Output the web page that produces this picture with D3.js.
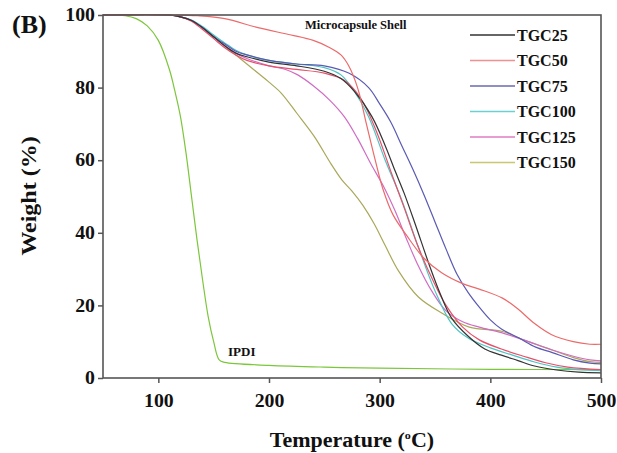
<!DOCTYPE html>
<html>
<head>
<meta charset="utf-8">
<script src="https://cdn.jsdelivr.net/npm/d3@7"></script>
<style>
  body { margin: 0; background: #fff; }
  text { font-family: "Liberation Serif", "DejaVu Serif", serif; font-weight: bold; fill: #111; }
</style>
</head>
<body>
<svg width="617" height="453"></svg>
<script>
// temperatures (°C) and weight (%)
const tgc25 = [[50,100],[110,100],[120,99.5],[130,98.5],[140,96.5],[150,94],[160,91.5],[170,89.5],[180,88.5],[200,87],[225,86],[250,84.5],[265,82.5],[277,79],[293,72],[305,64],[314,57],[322,51],[332,42.5],[345,31],[355,23],[365,16.5],[380,11.5],[395,8],[410,6.3],[425,4.8],[440,3.3],[460,2.2],[480,1.6],[500,1.4]];
const tgc50 = [[50,100],[110,100],[120,99.5],[130,98.3],[140,96],[150,93.5],[160,91],[170,89],[180,87.5],[200,86],[225,85],[250,84],[268,82],[283,77],[297,68],[310,57],[322,47],[335,36],[348,27],[360,20],[375,14],[390,10.5],[410,8],[430,6],[450,4.2],[470,3],[500,2.3]];
const tgc75 = [[50,100],[110,100],[120,99.5],[130,98.5],[140,96.5],[150,94],[160,92],[170,90],[180,89],[200,87.5],[225,86.5],[250,86],[272,84],[290,80],[300,75.5],[310,70.5],[320,64],[330,57.5],[340,50.5],[350,43],[360,35.5],[370,28.5],[380,23.5],[390,19.5],[400,16],[410,13.5],[426,11],[441,8.5],[456,7],[475,5],[490,4.1],[500,3.9]];
const tgc100 = [[50,100],[110,100],[120,99.5],[130,98.6],[140,96.8],[150,94.5],[160,92.3],[170,90.3],[180,89],[200,87.5],[225,86.5],[250,85.5],[265,83.5],[277,79],[290,72],[305,60],[320,49],[335,36],[350,24],[365,15],[380,11],[400,8.3],[420,6.3],[440,4.4],[460,3],[480,2.3],[500,2]];
const tgc125 = [[50,100],[110,100],[120,99.5],[130,98.5],[140,96.5],[150,94],[160,91.5],[170,89.5],[180,88],[200,86],[215,85],[226,83.5],[240,80.5],[255,76.5],[268,72],[280,66],[292,59],[304,52.5],[314,46],[324,38.5],[334,31.5],[347,24],[360,18.5],[375,15.5],[390,14],[410,12.5],[430,10.5],[456,7.7],[475,6],[490,5],[500,4.7]];
const tgc150 = [[50,100],[110,100],[120,99.5],[130,98.5],[140,96.5],[150,94],[160,91.5],[170,89],[180,86.5],[190,84],[200,81.5],[211,78.5],[225,73],[241,66.5],[256,59],[266,54.5],[275,51.5],[285,47.5],[295,42.5],[305,36.5],[317,29.5],[335,22.3],[356,17.9],[381,14],[411,12.8],[430,10.5],[456,7.7],[475,5.6],[490,4.5],[500,4.3]];
const shell = [[50,100],[115,100],[135,99.8],[160,99],[190,96.5],[220,94.5],[240,93],[255,91],[265,89],[272,86],[280,80],[288,70],[296,60],[303,52],[312,45],[325,39],[340,33],[356,29],[375,26],[390,24.5],[411,22],[425,19],[440,15],[455,12],[475,10],[490,9.3],[500,9.3]];
const ipdi = [[50,100],[70,99.8],[80,99],[90,97],[100,93],[110,85],[115,79],[120,72],[125,62],[130,50],[135,38],[140,27],[145,17],[150,10],[155,5],[160,4.3],[200,3.5],[250,3],[300,2.7],[400,2.4],[500,2.3]];

const legendNames = ["TGC25","TGC50","TGC75","TGC100","TGC125","TGC150"];
const xTicks = [100,200,300,400,500];
const yTicks = [0,20,40,60,80,100];

const series = [
  {name:"IPDI", data: ipdi, color:"#7cc63c"},
  {name:"TGC150", data: tgc150, color:"#a9a85a"},
  {name:"TGC125", data: tgc125, color:"#d06cc4"},
  {name:"TGC100", data: tgc100, color:"#4cc4c4"},
  {name:"TGC75", data: tgc75, color:"#5a5ab4"},
  {name:"TGC50", data: tgc50, color:"#e8506a"},
  {name:"TGC25", data: tgc25, color:"#333333"},
  {name:"Shell", data: shell, color:"#ec6a6a"}
];
const legendColors = {TGC25:"#333333",TGC50:"#f09090",TGC75:"#6a6ab0",TGC100:"#6cd0d0",TGC125:"#e07cc0",TGC150:"#c8c870"};

const svg = d3.select("svg");
const x = d3.scaleLinear().domain([50,500]).range([103,601]);
const y = d3.scaleLinear().domain([0,100]).range([378,15]);

const line = d3.line().x(d => x(d[0])).y(d => y(d[1])).curve(d3.curveCatmullRom.alpha(0.5));

svg.selectAll(".curve")
  .data(series)
  .enter()
  .append("path")
  .attr("d", d => line(d.data))
  .attr("fill","none")
  .attr("stroke", d => d.color)
  .attr("stroke-width", 1.2);

// frame
svg.append("rect")
  .attr("x",103).attr("y",15).attr("width",498).attr("height",363)
  .attr("fill","none").attr("stroke","#555").attr("stroke-width",1.6);

const xaxis = svg.append("g")
  .attr("transform","translate(0,378)")
  .call(d3.axisBottom(x).tickValues(xTicks).tickSize(5).tickPadding(11).tickFormat(d3.format("d")));
const yaxis = svg.append("g")
  .attr("transform","translate(103,0)")
  .call(d3.axisLeft(y).tickValues(yTicks).tickSize(5).tickPadding(3).tickFormat(d3.format("d")));
[xaxis, yaxis].forEach(a => {
  a.select(".domain").remove();
  a.selectAll("line").attr("stroke","#555").attr("stroke-width",1.5);
  a.selectAll("text").style("font-family","Liberation Serif").style("font-weight","bold").style("font-size","18px").attr("fill","#111");
});
// slightly wider glyphs, like the original
xaxis.selectAll(".tick text").attr("transform","scale(1.1,1)");
yaxis.selectAll(".tick text").attr("transform","scale(1.1,1)").attr("x",-8/1.1);

// legend
const leg = svg.append("g");
legendNames.forEach((n,i) => {
  const ly = 35 + i*25.5;
  leg.append("line").attr("x1",470).attr("x2",515).attr("y1",ly).attr("y2",ly)
    .attr("stroke",legendColors[n]).attr("stroke-width",1.3);
  leg.append("text").attr("x",517).attr("y",ly+5.5).attr("font-size",16).text(n);
});

svg.append("text").attr("x",305).attr("y",29).attr("font-size",12.5).text("Microcapsule Shell");
svg.append("text").attr("x",228).attr("y",356).attr("font-size",13).text("IPDI");
svg.append("text").attr("x",12).attr("y",33).attr("font-size",26).text("(B)");

svg.append("text")
  .attr("transform","translate(36,196) rotate(-90) scale(1.2,1)")
  .attr("text-anchor","middle").attr("font-size",20).text("Weight (%)");

const xt = svg.append("text")
  .attr("transform","translate(352,447) scale(1.1,1)")
  .attr("text-anchor","middle").attr("font-size",20);
xt.append("tspan").text("Temperature (");
xt.append("tspan").attr("dy",-8).attr("font-size",11).text("o");
xt.append("tspan").attr("dy",8).text("C)");
</script>
</body>
</html>
